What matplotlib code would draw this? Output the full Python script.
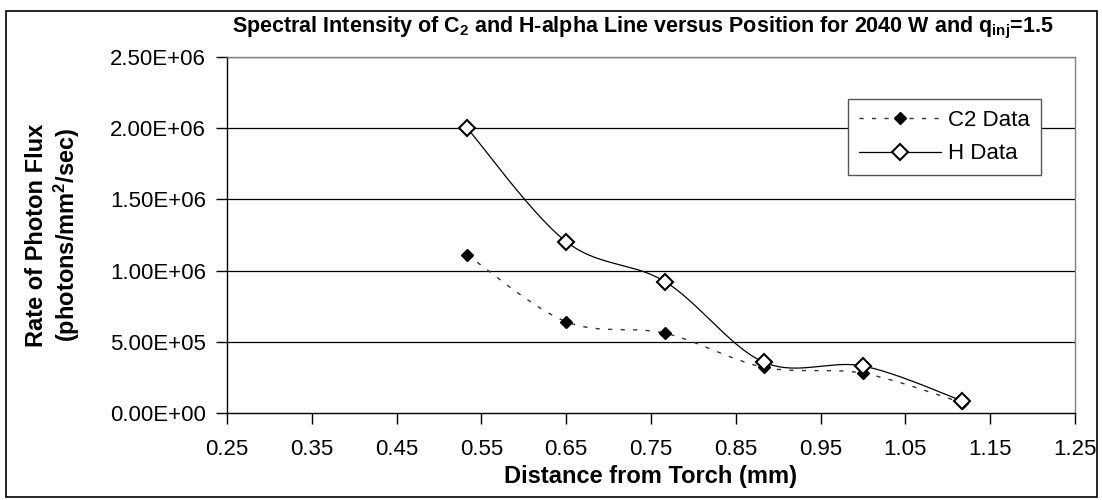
import matplotlib
matplotlib.use("Agg")
import matplotlib.pyplot as plt
import numpy as np
from matplotlib.patches import Rectangle

plt.rcParams['font.family'] = ['Liberation Sans', 'DejaVu Sans']
plt.rcParams['mathtext.default'] = 'regular'

# data
distance = [0.5333, 0.65, 0.7667, 0.8833, 1.0, 1.1167]
c2_flux = [1.11e6, 0.641e6, 0.56e6, 0.321e6, 0.279e6, 0.072e6]
h_flux = [2.0e6, 1.203e6, 0.922e6, 0.356e6, 0.33e6, 0.086e6]

x_ticks = [0.25, 0.35, 0.45, 0.55, 0.65, 0.75, 0.85, 0.95, 1.05, 1.15, 1.25]
y_ticks = [0, 5e5, 1e6, 1.5e6, 2e6, 2.5e6]

XMIN, XMAX = 0.25, 1.25
YMIN, YMAX = 0, 2.5e6
AX_W, AX_H = 848, 356  # plot area size in pixels, used for smoothing


def excel_smooth(xs, ys, n=40):
    # bezier smoothing like a spreadsheet "smoothed line", done in screen space
    p = np.column_stack([(np.asarray(xs) - XMIN) / (XMAX - XMIN) * AX_W,
                         (np.asarray(ys) - YMIN) / (YMAX - YMIN) * AX_H])
    out = []
    t = np.linspace(0, 1, n)[:, None]
    for i in range(len(p) - 1):
        p0 = p[i - 1] if i > 0 else p[i]
        p3 = p[i + 2] if i + 2 < len(p) else p[i + 1]
        c1 = p[i] + (p[i + 1] - p0) / 6
        c2 = p[i + 1] - (p3 - p[i]) / 6
        seg = ((1 - t) ** 3) * p[i] + 3 * ((1 - t) ** 2) * t * c1 \
            + 3 * (1 - t) * t ** 2 * c2 + t ** 3 * p[i + 1]
        out.append(seg if i == 0 else seg[1:])
    out = np.vstack(out)
    return (out[:, 0] / AX_W * (XMAX - XMIN) + XMIN,
            out[:, 1] / AX_H * (YMAX - YMIN) + YMIN)


fig = plt.figure(figsize=(11.02, 5.0), dpi=100)
ax = fig.add_axes([227 / 1102, 87 / 500, 848 / 1102, 356 / 500])

# outer chart border
fig.patches.append(Rectangle((6 / 1102, 3 / 500), 1091 / 1102, 486 / 500,
                             transform=fig.transFigure, fill=False,
                             edgecolor='black', linewidth=1.2))

for v in y_ticks[1:]:
    ax.axhline(v, color='black', linewidth=0.9, zorder=1)

sx, sy = excel_smooth(distance, c2_flux)
ax.plot(sx, sy, color='#333333', linewidth=1.0, linestyle=(0, (3, 6)), zorder=2)
sx, sy = excel_smooth(distance, h_flux)
ax.plot(sx, sy, color='black', linewidth=0.9, zorder=2)

ax.plot(distance, c2_flux, linestyle='none', marker='D', markersize=6.5,
        color='black', zorder=3)
ax.plot(distance, h_flux, linestyle='none', marker='D', markersize=8,
        markerfacecolor='white', markeredgecolor='black', markeredgewidth=1.5,
        zorder=4)

# legend proxies
ax.plot([], [], color='#333333', linewidth=1.0, linestyle=(0, (3, 6)),
        marker='D', markersize=6.5, markerfacecolor='black',
        markeredgecolor='black', label='C2 Data')
ax.plot([], [], color='black', linewidth=0.9, marker='D', markersize=8,
        markerfacecolor='white', markeredgecolor='black', markeredgewidth=1.5,
        label='H Data')
handles, labels = ax.get_legend_handles_labels()
leg = ax.legend(handles, labels, loc='upper left',
                bbox_to_anchor=(0.732, 0.882), frameon=True, fancybox=False,
                edgecolor='#555555', framealpha=1, fontsize=16,
                handlelength=3.7, handletextpad=0.3, borderpad=0.5,
                labelspacing=0.55, borderaxespad=0)
leg.get_frame().set_linewidth(1.0)

ax.set_xlim(XMIN, XMAX)
ax.set_ylim(YMIN, YMAX)
ax.set_xticks(x_ticks)
ax.set_xticklabels([f"{v:.2f}" for v in x_ticks])
ax.set_yticks(y_ticks)
ax.set_yticklabels([f"{v:.2E}" for v in y_ticks])
ax.tick_params(axis='both', direction='out', length=8, width=1,
               labelsize=16, colors='black')
ax.tick_params(axis='x', pad=11)
ax.tick_params(axis='y', pad=7)

for side in ['top', 'right']:
    ax.spines[side].set_color('#808080')
for side in ['left', 'bottom']:
    ax.spines[side].set_color('black')
for s in ax.spines.values():
    s.set_linewidth(1.0)

fig.text(643 / 1102, 1 - 28 / 500,
         r"Spectral Intensity of C$_2$ and H-alpha Line versus Position for 2040 W and q$_{inj}$=1.5",
         fontsize=15.5, fontweight='bold', ha='center', va='center')
ax.set_xlabel("Distance from Torch (mm)", fontsize=17, fontweight='bold',
              labelpad=3)
ax.set_ylabel("Rate of Photon Flux\n(photons/mm$^2$/sec)", fontsize=17,
              fontweight='bold', labelpad=20)

fig.savefig("out.png", dpi=100)
